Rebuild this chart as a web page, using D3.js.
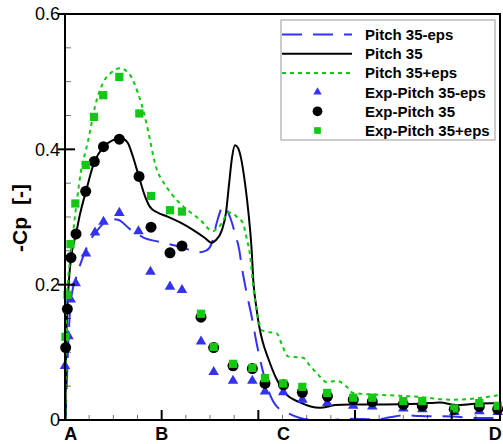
<!DOCTYPE html>
<html><head><meta charset="utf-8">
<script src="https://cdn.jsdelivr.net/npm/d3@7"></script>
<style>body{margin:0;background:#fff}svg{display:block;font-family:"Liberation Sans",Arial,sans-serif}</style>
</head><body>
<svg id="c" width="503" height="444"></svg>
<script>
// ---- data (x in axis units: A=0, B=1, ... ; y = -Cp) ----
const yTicks = [0, 0.2, 0.4, 0.6];
const yTickLabels = ["0", "0.2", "0.4", "0.6"];
const stationLabels = ["A", "B", "C", "D"];
const stationPos = [0.06, 1.0, 2.26, 4.45];

const cfdMinusX = [0.005,0.016,0.031,0.052,0.078,0.114,0.173,0.259,0.362,0.466,0.548,0.672,0.807,0.983,1.190,1.397,1.469,1.518,1.569,1.621,1.645,1.707,1.758,1.803,1.828,1.880,1.931,1.983,2.035,2.103,2.190,2.310,2.431,2.586,2.741,2.948,3.224,3.362,3.500,3.672,4.017,4.259,4.500];
const cfdMinusY = [0,0.044,0.103,0.163,0.192,0.210,0.236,0.265,0.285,0.297,0.296,0.282,0.270,0.263,0.256,0.248,0.251,0.261,0.291,0.313,0.316,0.300,0.276,0.251,0.227,0.187,0.153,0.113,0.079,0.044,0.020,0.010,0.003,0.000,0.000,0.002,0.001,0.004,0.007,0.006,0.005,0.003,0.003];

const cfdX = [0.005,0.008,0.012,0.024,0.041,0.062,0.114,0.155,0.217,0.300,0.393,0.486,0.559,0.610,0.652,0.703,0.766,0.827,0.879,0.952,1.055,1.190,1.324,1.448,1.515,1.562,1.624,1.666,1.696,1.727,1.758,1.790,1.821,1.862,1.898,1.931,1.950,1.976,2.007,2.048,2.100,2.183,2.276,2.431,2.638,2.793,2.948,3.290,3.672,3.879,4.045,4.241,4.500];
const cfdY = [0,0.059,0.106,0.163,0.207,0.239,0.275,0.304,0.338,0.380,0.403,0.413,0.416,0.415,0.409,0.389,0.359,0.331,0.315,0.307,0.301,0.292,0.281,0.269,0.262,0.266,0.281,0.307,0.347,0.387,0.406,0.402,0.387,0.350,0.306,0.251,0.202,0.170,0.140,0.114,0.092,0.062,0.040,0.026,0.018,0.022,0.023,0.023,0.024,0.026,0.022,0.024,0.025];

const cfdPlusX = [0.005,0.010,0.021,0.052,0.083,0.124,0.173,0.217,0.241,0.310,0.393,0.483,0.569,0.672,0.755,0.827,0.879,0.915,0.952,1.003,1.086,1.221,1.397,1.531,1.583,1.624,1.686,1.727,1.779,1.841,1.878,1.914,1.945,1.996,2.033,2.100,2.190,2.245,2.307,2.379,2.462,2.534,2.607,2.707,2.811,2.914,2.979,3.290,3.672,3.982,4.259,4.500];
const cfdPlusY = [0,0.133,0.182,0.236,0.276,0.325,0.374,0.399,0.414,0.463,0.498,0.514,0.520,0.510,0.483,0.448,0.414,0.389,0.369,0.355,0.337,0.316,0.296,0.279,0.284,0.291,0.307,0.306,0.300,0.291,0.269,0.244,0.200,0.152,0.133,0.130,0.128,0.111,0.094,0.093,0.092,0.080,0.069,0.056,0.058,0.049,0.040,0.037,0.034,0.030,0.032,0.037];

const expMinusX = [0.000,0.036,0.059,0.111,0.217,0.310,0.398,0.562,0.760,0.884,1.086,1.210,1.407,1.538,1.738,1.938,2.069,2.258,2.455,2.713,2.982,3.179,3.500,3.696,4.027,4.286,4.476];
const expMinusY = [0.080,0.124,0.178,0.202,0.246,0.277,0.293,0.306,0.279,0.219,0.197,0.192,0.116,0.071,0.058,0.058,0.042,0.041,0.030,0.025,0.021,0.020,0.017,0.016,0.012,0.013,0.012];

const expX = [0.007,0.024,0.062,0.114,0.214,0.303,0.398,0.562,0.766,0.890,1.086,1.210,1.407,1.538,1.738,1.938,2.069,2.260,2.455,2.715,2.982,3.179,3.500,3.696,4.027,4.286,4.476];
const expY = [0.107,0.164,0.240,0.275,0.338,0.382,0.404,0.415,0.360,0.285,0.247,0.257,0.152,0.107,0.080,0.076,0.054,0.052,0.041,0.035,0.030,0.027,0.023,0.021,0.016,0.020,0.016];

const expPlusX = [0.005,0.026,0.057,0.107,0.215,0.300,0.396,0.562,0.769,0.890,1.086,1.210,1.407,1.538,1.738,1.938,2.069,2.258,2.455,2.713,2.982,3.179,3.500,3.696,4.027,4.286,4.476];
const expPlusY = [0.123,0.185,0.260,0.320,0.377,0.448,0.480,0.507,0.453,0.331,0.310,0.308,0.157,0.108,0.083,0.077,0.062,0.054,0.049,0.040,0.033,0.033,0.028,0.028,0.017,0.025,0.021];

const seriesNames = ["Pitch 35-eps","Pitch 35","Pitch 35+eps","Exp-Pitch 35-eps","Exp-Pitch 35","Exp-Pitch 35+eps"];

// ---- drawing ----
const BLUE = "#3232f0", GREEN = "#12c812", BLACK = "#000";
const svg = d3.select("#c");
const L = 65, R = 500, T = 14, B = 420;
const x = d3.scaleLinear().domain([0, 4.5]).range([L, R]);
const y = d3.scaleLinear().domain([0, 0.6]).range([B, T]);
const zip = (xs, ys) => xs.map((v, i) => [v, ys[i]]);

const plot = svg.append("g");
plot.append("clipPath").attr("id","clip").append("rect").attr("x",L).attr("y",T).attr("width",R-L).attr("height",B-T);

const line = d3.line().x(d => x(d[0])).y(d => y(d[1])).curve(d3.curveMonotoneX);
const lg = plot.append("g").attr("clip-path","url(#clip)");
lg.append("path").datum(zip(cfdMinusX, cfdMinusY)).attr("d", line).attr("fill","none").attr("stroke",BLUE).attr("stroke-width",2).attr("stroke-dasharray","20,11");
lg.append("path").datum(zip(cfdX, cfdY)).attr("d", line).attr("fill","none").attr("stroke",BLACK).attr("stroke-width",2);
lg.append("path").datum(zip(cfdPlusX, cfdPlusY)).attr("d", line).attr("fill","none").attr("stroke",GREEN).attr("stroke-width",2).attr("stroke-dasharray","4,4");

const tri = d3.symbol().type(d3.symbolTriangle).size(48)();
const circ = d3.symbol().type(d3.symbolCircle).size(95)();
const sq = d3.symbol().type(d3.symbolSquare).size(68)();
plot.append("g").selectAll("path").data(zip(expMinusX, expMinusY)).join("path")
  .attr("d", tri).attr("transform", d => `translate(${x(d[0])},${y(d[1])})`).attr("fill", BLUE);
plot.append("g").selectAll("path").data(zip(expX, expY)).join("path")
  .attr("d", circ).attr("transform", d => `translate(${x(d[0])},${y(d[1])})`).attr("fill", BLACK);
plot.append("g").selectAll("path").data(zip(expPlusX, expPlusY)).join("path")
  .attr("d", sq).attr("transform", d => `translate(${x(d[0])},${y(d[1])})`).attr("fill", GREEN);

// frame
svg.append("rect").attr("x",L).attr("y",T).attr("width",R-L).attr("height",B-T)
  .attr("fill","none").attr("stroke","#000").attr("stroke-width",2);

// y ticks
const ax = svg.append("g");
d3.range(0, 0.6001, 0.05).forEach(v => {
  const major = yTicks.some(t => Math.abs(t - v) < 1e-6);
  ax.append("line").attr("x1", major ? L-7 : L).attr("x2", major ? L+10 : L+6)
    .attr("y1", y(v)).attr("y2", y(v)).attr("stroke","#000").attr("stroke-width", major ? 2 : 1)
    .attr("stroke-opacity", major ? 1 : 0.55);
});
ax.selectAll("text.yt").data(yTicks).join("text").attr("class","yt")
  .attr("x", L-5).attr("y", d => y(d)).attr("dy","0.36em").attr("text-anchor","end")
  .attr("font-size",18).text((d,i) => yTickLabels[i]);

// x ticks
d3.range(0, 4.5001, 0.25).forEach(v => {
  const major = Math.abs(v - Math.round(v)) < 1e-6;
  if (v === 0) return;
  ax.append("line").attr("x1", x(v)).attr("x2", x(v)).attr("y1", B).attr("y2", major ? B-10 : B-5)
    .attr("stroke","#000").attr("stroke-width", major ? 2 : 1).attr("stroke-opacity", major ? 1 : 0.55);
});
ax.selectAll("text.xt").data(stationLabels).join("text").attr("class","xt")
  .attr("x", (d,i) => x(stationPos[i])).attr("y", 440).attr("text-anchor","middle")
  .attr("font-size",18).attr("font-weight","bold").text(d => d);

// y label
svg.append("text").attr("transform","translate(27,218) rotate(-90)").attr("text-anchor","middle")
  .attr("font-size",21).attr("font-weight","bold").style("word-spacing","6px").text("-Cp [-]");

// legend
const leg = svg.append("g");
leg.append("rect").attr("x",281).attr("y",20).attr("width",214).attr("height",120)
  .attr("fill","#fff").attr("stroke","#999").attr("stroke-width",1);
const rowY = i => 34.5 + i * 19.2;
const lineStyles = [[BLUE,"20,11"],[BLACK,null],[GREEN,"4,4"]];
lineStyles.forEach((s, i) => {
  leg.append("line").attr("x1",282).attr("x2",352).attr("y1",rowY(i)).attr("y2",rowY(i))
    .attr("stroke",s[0]).attr("stroke-width",2).attr("stroke-dasharray",s[1]);
});
const legSyms = [[d3.symbolTriangle, 30, BLUE],[d3.symbolCircle, 75, BLACK],[d3.symbolSquare, 45, GREEN]];
legSyms.forEach((s, i) => {
  leg.append("path").attr("d", d3.symbol().type(s[0]).size(s[1])())
    .attr("transform", `translate(317.5,${rowY(i+3)})`).attr("fill", s[2]);
});
leg.selectAll("text").data(seriesNames).join("text")
  .attr("x",365).attr("y",(d,i) => rowY(i)).attr("dy","0.36em")
  .attr("font-size",15).attr("font-weight","bold").text(d => d);
</script>
</body></html>
